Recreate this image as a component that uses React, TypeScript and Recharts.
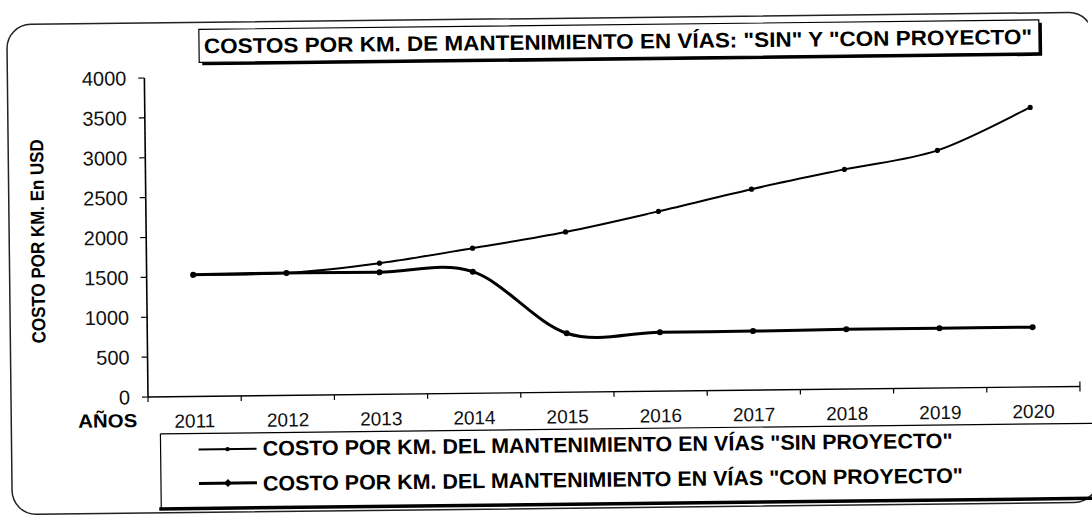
import { Line, LineChart, XAxis, YAxis } from "recharts";

const years = ["2011", "2012", "2013", "2014", "2015", "2016", "2017", "2018", "2019", "2020"];
const sinProyecto = [1525, 1535, 1645, 1820, 2010, 2255, 2520, 2755, 2980, 3505];
const conProyecto = [1525, 1535, 1530, 1525, 740, 740, 740, 750, 750, 750];
const yTicks = [0, 500, 1000, 1500, 2000, 2500, 3000, 3500, 4000];

const TITLE = 'COSTOS POR KM. DE MANTENIMIENTO EN VÍAS: "SIN" Y "CON PROYECTO"';
const Y_LABEL = "COSTO POR KM. En USD";
const X_LABEL = "AÑOS";
const LEGEND_SIN = 'COSTO POR KM. DEL MANTENIMIENTO EN VÍAS "SIN PROYECTO"';
const LEGEND_CON = 'COSTO POR KM. DEL MANTENIMIENTO EN VÍAS "CON PROYECTO"';

const data = years.map((year, i) => ({ year, sin: sinProyecto[i], con: conProyecto[i] }));

const W = 1092;
const H = 516;
const CHART_H = 440;
const MARGIN = { top: 78, right: 12, bottom: 13, left: 0 };
const Y_AXIS_W = 148;
const plotW = W - MARGIN.right - MARGIN.left - Y_AXIS_W;
const half = plotW / years.length / 2;

const font = "'Liberation Sans', Arial, sans-serif";

// excel-style smoothed line (catmull-rom through the points)
function smoothCurve(context: any) {
  let pts: number[][] = [];
  return {
    areaStart() {},
    areaEnd() {},
    lineStart() {
      pts = [];
    },
    point(x: number, y: number) {
      pts.push([+x, +y]);
    },
    lineEnd() {
      if (!pts.length) return;
      context.moveTo(pts[0][0], pts[0][1]);
      for (let i = 0; i < pts.length - 1; i++) {
        const p0 = pts[i - 1] || pts[i];
        const p1 = pts[i];
        const p2 = pts[i + 1];
        const p3 = pts[i + 2] || p2;
        context.bezierCurveTo(
          p1[0] + (p2[0] - p0[0]) / 6,
          p1[1] + (p2[1] - p0[1]) / 6,
          p2[0] - (p3[0] - p1[0]) / 6,
          p2[1] - (p3[1] - p1[1]) / 6,
          p2[0],
          p2[1]
        );
      }
    },
  };
}

function XTick(props: any) {
  const { x, y, payload, index } = props;
  const last = index === years.length - 1;
  return (
    <g>
      <line x1={x - half} x2={x - half} y1={y} y2={y + 5} stroke="#000" strokeWidth={1.2} />
      {last && <line x1={x + half} x2={x + half} y1={y - 5} y2={y + 5} stroke="#000" strokeWidth={1.2} />}
      <text x={x} y={y + 31} textAnchor="middle" fontSize={19} fontFamily={font} fill="#111">
        {payload.value}
      </text>
    </g>
  );
}

function Dot(props: any) {
  const { cx, cy, r } = props;
  if (cx == null || cy == null) return null;
  return <circle cx={cx} cy={cy} r={r} fill="#000" stroke="none" />;
}

export default function App() {
  return (
    <div
      style={{
        position: "absolute",
        left: 0,
        top: 0,
        width: W,
        height: H,
        background: "#fff",
        overflow: "hidden",
      }}
    >
      <div style={{ position: "absolute", left: 0, top: 0, width: W, height: H, transform: "rotate(-0.65deg)", transformOrigin: "148px 397px" }}>
        <LineChart width={W} height={CHART_H} data={data} margin={MARGIN} style={{ position: "absolute", left: 0, top: 0 }}>
          <YAxis
            width={Y_AXIS_W}
            domain={[0, 4000]}
            ticks={yTicks}
            interval={0}
            axisLine={{ stroke: "#000", strokeWidth: 1.6 }}
            tickLine={{ stroke: "#000", strokeWidth: 1.2 }}
            tickSize={6}
            tickMargin={12}
            tick={{ fill: "#111", fontSize: 20, fontFamily: font }}
          />
          <XAxis
            dataKey="year"
            padding={{ left: half, right: half }}
            axisLine={{ stroke: "#000", strokeWidth: 1.4 }}
            tickLine={false}
            tickSize={0}
            tickMargin={0}
            interval={0}
            height={30}
            tick={XTick}
          />
          <Line
            dataKey="sin"
            type={smoothCurve as any}
            stroke="#000"
            strokeWidth={2}
            dot={<Dot r={2.6} />}
            activeDot={false}
            isAnimationActive={false}
          />
          <Line
            dataKey="con"
            type={smoothCurve as any}
            stroke="#000"
            strokeWidth={3}
            dot={<Dot r={3} />}
            activeDot={false}
            isAnimationActive={false}
          />
        </LineChart>

        <svg width={W} height={H} style={{ position: "absolute", left: 0, top: 0, pointerEvents: "none" }}>
          {/* outer rounded frame */}
          <rect x={11} y={23} width={1086} height={490} rx={24} ry={24} fill="none" stroke="#222" strokeWidth={1.5} />

          {/* title box */}
          <rect x={206} y={33} width={840} height={33} fill="#000" />
          <rect x={203} y={30} width={840} height={33} fill="#fff" stroke="#000" strokeWidth={1.2} />
          <text x={208} y={54} fontSize={21} fontWeight="bold" fontFamily={font} textLength={828} lengthAdjust="spacingAndGlyphs">
            {TITLE}
          </text>

          {/* axis titles */}
          <text
            x={46}
            y={240}
            transform="rotate(-90 46 240)"
            textAnchor="middle"
            fontSize={19}
            fontWeight="bold"
            fontFamily={font}
            textLength={204}
            lengthAdjust="spacingAndGlyphs"
          >
            {Y_LABEL}
          </text>
          <text x={78} y={427} fontSize={19} fontWeight="bold" fontFamily={font} textLength={59} lengthAdjust="spacingAndGlyphs">
            {X_LABEL}
          </text>

          {/* legend */}
          <line x1={160} x2={160} y1={434} y2={510} stroke="#000" strokeWidth={1.2} />
          <line x1={160} x2={W + 10} y1={434} y2={434} stroke="#000" strokeWidth={1.2} />
          <line x1={158} x2={W + 10} y1={509} y2={509} stroke="#000" strokeWidth={3.5} />

          <line x1={198} x2={256} y1={450} y2={450} stroke="#000" strokeWidth={2} />
          <circle cx={227} cy={450} r={2.2} fill="#000" />
          <text x={262} y={457} fontSize={21} fontWeight="bold" fontFamily={font} textLength={690} lengthAdjust="spacingAndGlyphs">
            {LEGEND_SIN}
          </text>

          <line x1={198} x2={256} y1={484} y2={484} stroke="#000" strokeWidth={3} />
          <path d="M227 480 L231 484 L227 488 L223 484 Z" fill="#000" />
          <text x={262} y={492} fontSize={21} fontWeight="bold" fontFamily={font} textLength={700} lengthAdjust="spacingAndGlyphs">
            {LEGEND_CON}
          </text>
        </svg>
      </div>
    </div>
  );
}
